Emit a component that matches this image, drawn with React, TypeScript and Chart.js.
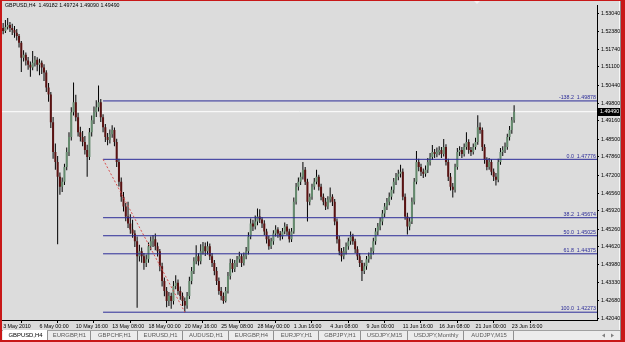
import React, { useEffect, useRef } from 'react';
import Chart from 'chart.js/auto';

const symbol = 'GBPUSD,H4';

const timeLabels = ['3 May 2010', '6 May 00:00', '10 May 16:00', '13 May 08:00', '18 May 00:00', '20 May 16:00', '25 May 08:00', '28 May 00:00', '1 Jun 16:00', '4 Jun 08:00', '9 Jun 00:00', '11 Jun 16:00', '16 Jun 08:00', '21 Jun 00:00', '23 Jun 16:00'];
const timeLabelBars = [0, 16, 32, 48, 64, 80, 96, 112, 128, 144, 160, 176, 192, 208, 224];

const priceTicks = [1.5304, 1.5238, 1.5174, 1.511, 1.5044, 1.498, 1.4916, 1.485, 1.4786, 1.472, 1.4656, 1.4592, 1.4526, 1.4462, 1.4398, 1.4333, 1.4268, 1.4204];

const opens = [
  1.5250, 1.5240, 1.5254, 1.5261, 1.5250, 1.5243, 1.5233, 1.5222, 1.5197, 1.5143,
  1.5154, 1.5133, 1.5118, 1.5108, 1.5125, 1.5136, 1.5118, 1.5125, 1.5108, 1.5090,
  1.5036, 1.5011, 1.4911, 1.4804, 1.4768, 1.4715, 1.4679, 1.4697, 1.4750, 1.4804,
  1.4858, 1.4947, 1.4983, 1.4929, 1.4875, 1.4858, 1.4840, 1.4811, 1.4786, 1.4875,
  1.4918, 1.4947, 1.4965, 1.4983, 1.4929, 1.4893, 1.4858, 1.4847, 1.4868, 1.4883,
  1.4840, 1.4768, 1.4697, 1.4643, 1.4608, 1.4572, 1.4547, 1.4525, 1.4511, 1.4483,
  1.4429, 1.4447, 1.4429, 1.4404, 1.4418, 1.4465, 1.4483, 1.4490, 1.4465, 1.4447,
  1.4393, 1.4340, 1.4304, 1.4268, 1.4286, 1.4268, 1.4322, 1.4333, 1.4304, 1.4286,
  1.4268, 1.4251, 1.4286, 1.4340, 1.4376, 1.4411, 1.4429, 1.4411, 1.4447, 1.4465,
  1.4447, 1.4465, 1.4429, 1.4404, 1.4376, 1.4340, 1.4304, 1.4286, 1.4268, 1.4304,
  1.4358, 1.4404, 1.4383, 1.4404, 1.4418, 1.4429, 1.4404, 1.4429, 1.4447, 1.4500,
  1.4547, 1.4536, 1.4554, 1.4572, 1.4561, 1.4547, 1.4518, 1.4490, 1.4465, 1.4483,
  1.4511, 1.4525, 1.4511, 1.4500, 1.4518, 1.4536, 1.4518, 1.4490, 1.4518, 1.4625,
  1.4679, 1.4697, 1.4715, 1.4740, 1.4697, 1.4625, 1.4643, 1.4679, 1.4697, 1.4715,
  1.4679, 1.4643, 1.4625, 1.4608, 1.4633, 1.4643, 1.4625, 1.4554, 1.4490, 1.4447,
  1.4429, 1.4447, 1.4465, 1.4483, 1.4500, 1.4483, 1.4454, 1.4429, 1.4404, 1.4376,
  1.4393, 1.4418, 1.4429, 1.4447, 1.4483, 1.4518, 1.4536, 1.4554, 1.4583, 1.4608,
  1.4625, 1.4643, 1.4668, 1.4697, 1.4715, 1.4726, 1.4733, 1.4643, 1.4572, 1.4536,
  1.4554, 1.4625, 1.4697, 1.4768, 1.4750, 1.4733, 1.4726, 1.4740, 1.4768, 1.4786,
  1.4804, 1.4797, 1.4804, 1.4811, 1.4797, 1.4822, 1.4768, 1.4715, 1.4679, 1.4668,
  1.4750, 1.4804, 1.4811, 1.4797, 1.4822, 1.4840, 1.4811, 1.4804, 1.4822, 1.4840,
  1.4893, 1.4883, 1.4822, 1.4775, 1.4750, 1.4768, 1.4733, 1.4715, 1.4704, 1.4768,
  1.4804, 1.4811, 1.4822, 1.4858, 1.4883, 1.49182,
];

const highs = [
  1.5268, 1.5279, 1.5286, 1.5272, 1.5266, 1.5258, 1.5247, 1.5229, 1.5204, 1.5170,
  1.5162, 1.5146, 1.5130, 1.5168, 1.5150, 1.5145, 1.5140, 1.5133, 1.5120, 1.5098,
  1.5052, 1.5020, 1.4930, 1.4835, 1.4790, 1.4730, 1.4712, 1.4762, 1.4820, 1.4875,
  1.4965, 1.5054, 1.5010, 1.4945, 1.4895, 1.4880, 1.4862, 1.4830, 1.4890, 1.4935,
  1.4968, 1.4990, 1.5043, 1.4995, 1.4940, 1.4905, 1.4872, 1.4885, 1.4900, 1.4892,
  1.4852, 1.4780, 1.4712, 1.4660, 1.4620, 1.4625, 1.4580, 1.4560, 1.4522, 1.4500,
  1.4470, 1.4460, 1.4440, 1.4435, 1.4478, 1.4500, 1.4505, 1.4511, 1.4478, 1.4455,
  1.4405, 1.4352, 1.4318, 1.4300, 1.4297, 1.4340, 1.4360, 1.4345, 1.4320, 1.4298,
  1.4280, 1.4300, 1.4355, 1.4390, 1.4425, 1.4468, 1.4440, 1.4472, 1.4480, 1.4478,
  1.4482, 1.4475, 1.4440, 1.4415, 1.4390, 1.4352, 1.4318, 1.4298, 1.4318, 1.4372,
  1.4420, 1.4418, 1.4415, 1.4430, 1.4445, 1.4438, 1.4442, 1.4462, 1.4515, 1.4565,
  1.4560, 1.4575, 1.4601, 1.4598, 1.4570, 1.4558, 1.4528, 1.4502, 1.4495, 1.4522,
  1.4540, 1.4533, 1.4520, 1.4530, 1.4550, 1.4545, 1.4528, 1.4530, 1.4640, 1.4692,
  1.4712, 1.4730, 1.4768, 1.4750, 1.4708, 1.4655, 1.4690, 1.4710, 1.4740, 1.4722,
  1.4690, 1.4655, 1.4638, 1.4645, 1.4676, 1.4652, 1.4635, 1.4565, 1.4502, 1.4458,
  1.4462, 1.4478, 1.4495, 1.4518, 1.4510, 1.4492, 1.4465, 1.4440, 1.4415, 1.4405,
  1.4430, 1.4442, 1.4460, 1.4495, 1.4530, 1.4548, 1.4568, 1.4595, 1.4620, 1.4638,
  1.4658, 1.4680, 1.4710, 1.4728, 1.4740, 1.4758, 1.4745, 1.4655, 1.4585, 1.4568,
  1.4640, 1.4710, 1.4808, 1.4780, 1.4762, 1.4745, 1.4755, 1.4782, 1.4800, 1.4829,
  1.4815, 1.4820, 1.4825, 1.4822, 1.4851, 1.4832, 1.4780, 1.4728, 1.4692, 1.4762,
  1.4818, 1.4825, 1.4822, 1.4835, 1.4875, 1.4850, 1.4822, 1.4835, 1.4855, 1.4936,
  1.4910, 1.4892, 1.4832, 1.4785, 1.4782, 1.4778, 1.4745, 1.4728, 1.4780, 1.4818,
  1.4825, 1.4838, 1.4870, 1.4898, 1.4930, 1.49724,
];

const lows = [
  1.5228, 1.5232, 1.5245, 1.5236, 1.5225, 1.5215, 1.5205, 1.5180, 1.5092, 1.5130,
  1.5115, 1.5100, 1.5075, 1.5098, 1.5112, 1.5095, 1.5080, 1.5085, 1.5060, 1.5020,
  1.4985, 1.4890, 1.4780, 1.4740, 1.4472, 1.4650, 1.4660, 1.4685, 1.4738, 1.4790,
  1.4845, 1.4935, 1.4915, 1.4860, 1.4842, 1.4825, 1.4795, 1.4715, 1.4775, 1.4860,
  1.4905, 1.4930, 1.4950, 1.4912, 1.4875, 1.4840, 1.4828, 1.4835, 1.4855, 1.4825,
  1.4750, 1.4680, 1.4625, 1.4590, 1.4555, 1.4530, 1.4510, 1.4495, 1.4462, 1.4243,
  1.4410, 1.4405, 1.4380, 1.4390, 1.4405, 1.4450, 1.4462, 1.4450, 1.4428, 1.4375,
  1.4320, 1.4285, 1.4245, 1.4250, 1.4240, 1.4255, 1.4310, 1.4290, 1.4272, 1.4250,
  1.4227, 1.4240, 1.4275, 1.4328, 1.4365, 1.4400, 1.4395, 1.4400, 1.4435, 1.4430,
  1.4435, 1.4415, 1.4390, 1.4360, 1.4325, 1.4290, 1.4270, 1.4258, 1.4262, 1.4295,
  1.4345, 1.4370, 1.4372, 1.4390, 1.4405, 1.4390, 1.4395, 1.4418, 1.4435, 1.4490,
  1.4520, 1.4525, 1.4540, 1.4548, 1.4530, 1.4505, 1.4475, 1.4452, 1.4455, 1.4470,
  1.4500, 1.4495, 1.4485, 1.4490, 1.4508, 1.4505, 1.4478, 1.4480, 1.4510, 1.4615,
  1.4665, 1.4685, 1.4705, 1.4685, 1.4554, 1.4612, 1.4632, 1.4668, 1.4688, 1.4665,
  1.4630, 1.4612, 1.4595, 1.4598, 1.4622, 1.4610, 1.4540, 1.4475, 1.4432, 1.4410,
  1.4418, 1.4435, 1.4452, 1.4470, 1.4470, 1.4440, 1.4415, 1.4390, 1.4340, 1.4365,
  1.4380, 1.4405, 1.4418, 1.4435, 1.4470, 1.4505, 1.4522, 1.4540, 1.4570, 1.4595,
  1.4612, 1.4632, 1.4655, 1.4685, 1.4702, 1.4712, 1.4630, 1.4560, 1.4507, 1.4522,
  1.4545, 1.4615, 1.4688, 1.4735, 1.4718, 1.4710, 1.4715, 1.4728, 1.4755, 1.4775,
  1.4782, 1.4785, 1.4792, 1.4782, 1.4788, 1.4755, 1.4700, 1.4665, 1.4640, 1.4658,
  1.4740, 1.4790, 1.4782, 1.4788, 1.4812, 1.4798, 1.4790, 1.4795, 1.4812, 1.4830,
  1.4870, 1.4808, 1.4762, 1.4738, 1.4740, 1.4720, 1.4700, 1.4683, 1.4695, 1.4758,
  1.4790, 1.4800, 1.4812, 1.4845, 1.4870, 1.49090,
];

const closes = [
  1.5240, 1.5254, 1.5261, 1.5250, 1.5243, 1.5233, 1.5222, 1.5197, 1.5143, 1.5154,
  1.5133, 1.5118, 1.5108, 1.5125, 1.5136, 1.5118, 1.5125, 1.5108, 1.5090, 1.5036,
  1.5011, 1.4911, 1.4804, 1.4768, 1.4715, 1.4679, 1.4697, 1.4750, 1.4804, 1.4858,
  1.4947, 1.4983, 1.4929, 1.4875, 1.4858, 1.4840, 1.4811, 1.4786, 1.4875, 1.4918,
  1.4947, 1.4965, 1.4983, 1.4929, 1.4893, 1.4858, 1.4847, 1.4868, 1.4883, 1.4840,
  1.4768, 1.4697, 1.4643, 1.4608, 1.4572, 1.4547, 1.4525, 1.4511, 1.4483, 1.4429,
  1.4447, 1.4429, 1.4404, 1.4418, 1.4465, 1.4483, 1.4490, 1.4465, 1.4447, 1.4393,
  1.4340, 1.4304, 1.4268, 1.4286, 1.4268, 1.4322, 1.4333, 1.4304, 1.4286, 1.4268,
  1.4251, 1.4286, 1.4340, 1.4376, 1.4411, 1.4429, 1.4411, 1.4447, 1.4465, 1.4447,
  1.4465, 1.4429, 1.4404, 1.4376, 1.4340, 1.4304, 1.4286, 1.4268, 1.4304, 1.4358,
  1.4404, 1.4383, 1.4404, 1.4418, 1.4429, 1.4404, 1.4429, 1.4447, 1.4500, 1.4547,
  1.4536, 1.4554, 1.4572, 1.4561, 1.4547, 1.4518, 1.4490, 1.4465, 1.4483, 1.4511,
  1.4525, 1.4511, 1.4500, 1.4518, 1.4536, 1.4518, 1.4490, 1.4518, 1.4625, 1.4679,
  1.4697, 1.4715, 1.4740, 1.4697, 1.4625, 1.4643, 1.4679, 1.4697, 1.4715, 1.4679,
  1.4643, 1.4625, 1.4608, 1.4633, 1.4643, 1.4625, 1.4554, 1.4490, 1.4447, 1.4429,
  1.4447, 1.4465, 1.4483, 1.4500, 1.4483, 1.4454, 1.4429, 1.4404, 1.4376, 1.4393,
  1.4418, 1.4429, 1.4447, 1.4483, 1.4518, 1.4536, 1.4554, 1.4583, 1.4608, 1.4625,
  1.4643, 1.4668, 1.4697, 1.4715, 1.4726, 1.4733, 1.4643, 1.4572, 1.4536, 1.4554,
  1.4625, 1.4697, 1.4768, 1.4750, 1.4733, 1.4726, 1.4740, 1.4768, 1.4786, 1.4804,
  1.4797, 1.4804, 1.4811, 1.4797, 1.4822, 1.4768, 1.4715, 1.4679, 1.4668, 1.4750,
  1.4804, 1.4811, 1.4797, 1.4822, 1.4840, 1.4811, 1.4804, 1.4822, 1.4840, 1.4893,
  1.4883, 1.4822, 1.4775, 1.4750, 1.4768, 1.4733, 1.4715, 1.4704, 1.4768, 1.4804,
  1.4811, 1.4822, 1.4858, 1.4883, 1.4918, 1.49490,
];

const fibLevels = ['-138.2', '0.0', '38.2', '50.0', '61.8', '100.0'];
const fibPrices = [1.49878, 1.47776, 1.45674, 1.45025, 1.44375, 1.42273];
const fibStartBar = 44;
const fibEndBar = 80;

const tabNames = ['GBPUSD,H4', 'EURGBP,H1', 'GBPCHF,H1', 'EURUSD,H1', 'AUDUSD,H1', 'EURGBP,H4', 'EURJPY,H1', 'GBPJPY,H1', 'USDJPY,M15', 'USDJPY,Monthly', 'AUDJPY,M15'];

// layout (not data)
const W = 625;
const H = 342;
const X_MAX = 261.5;
const FONT = "'Liberation Sans', Arial, sans-serif";
const TAB_EDGES = [2, 47, 90, 137, 182, 228, 273, 318, 360, 407, 463, 513];
const BULL = '#648a6d';
const BEAR = '#5a1212';
const FIB_COLOR = '#2c2c98';

const framePlugin = {
  id: 'mtFrame',
  beforeDraw(chart: any) {
    const ctx = chart.ctx;
    ctx.save();
    ctx.fillStyle = '#c81818';
    ctx.fillRect(0, 0, W, H);
    ctx.fillStyle = '#dcdcdc';
    ctx.fillRect(2, 1, 618, 329);
    ctx.fillStyle = '#f6f6f6';
    ctx.fillRect(619, 1, 1, 329);
    ctx.fillStyle = '#8c8c8c';
    ctx.fillRect(620, 1, 1, 339);
    // tab bar
    ctx.fillStyle = '#ececec';
    ctx.fillRect(2, 330, 618, 10);
    ctx.fillStyle = '#a0a0a0';
    ctx.fillRect(2, 330, 618, 1);
    // active tab
    ctx.fillStyle = '#ffffff';
    ctx.fillRect(3, 330, TAB_EDGES[1] - 3, 10);
    ctx.fillStyle = '#909090';
    for (let k = 1; k < TAB_EDGES.length; k++) {
      ctx.fillRect(TAB_EDGES[k], 331, 1, 9);
    }
    ctx.restore();
  },
  afterDraw(chart: any) {
    const ctx = chart.ctx;
    const area = chart.chartArea;
    const yScale = chart.scales.y;
    const last = closes.length - 1;
    ctx.save();
    // header
    ctx.font = `5.3px ${FONT}`;
    ctx.fillStyle = '#000';
    ctx.textBaseline = 'middle';
    ctx.textAlign = 'left';
    ctx.fillText(`${symbol}  ${opens[last].toFixed(5)} ${highs[last].toFixed(5)} ${lows[last].toFixed(5)} ${closes[last].toFixed(5)}`, 5, 6);
    // fib labels
    ctx.fillStyle = FIB_COLOR;
    ctx.textAlign = 'right';
    fibLevels.forEach((lv, k) => {
      const y = yScale.getPixelForValue(fibPrices[k]);
      ctx.fillText(`${lv}  ${fibPrices[k].toFixed(5)}`, area.right - 1, y - 3.2);
    });
    // bid price box
    const by = yScale.getPixelForValue(closes[last]);
    ctx.fillStyle = '#000';
    ctx.fillRect(area.right + 1, Math.round(by) - 4, 22, 8);
    ctx.fillStyle = '#fff';
    ctx.textAlign = 'left';
    ctx.fillText(closes[last].toFixed(5), area.right + 3, by + 0.3);
    // chart shift marker
    ctx.fillStyle = '#f2f2f2';
    ctx.beginPath();
    ctx.moveTo(474, 1);
    ctx.lineTo(480, 1);
    ctx.lineTo(477, 4);
    ctx.closePath();
    ctx.fill();
    // tabs
    ctx.font = `5.9px ${FONT}`;
    ctx.textAlign = 'center';
    tabNames.forEach((t, k) => {
      ctx.fillStyle = k === 0 ? '#000' : '#5a5a5a';
      ctx.fillText(t, (TAB_EDGES[k] + TAB_EDGES[k + 1]) / 2 + 1, 335.8);
    });
    // scroll arrows
    ctx.fillStyle = '#808080';
    ctx.beginPath();
    ctx.moveTo(602, 335.5); ctx.lineTo(605, 333.5); ctx.lineTo(605, 337.5); ctx.closePath(); ctx.fill();
    ctx.beginPath();
    ctx.moveTo(614, 335.5); ctx.lineTo(611, 333.5); ctx.lineTo(611, 337.5); ctx.closePath(); ctx.fill();
    ctx.restore();
  },
};

export default function App() {
  const ref = useRef<HTMLCanvasElement | null>(null);

  useEffect(() => {
    if (!ref.current) return;
    const last = closes.length - 1;
    const bodyColors = closes.map((c, i) => (c >= opens[i] ? BULL : BEAR));
    const fibDatasets = fibPrices.map((p, k) => ({
      type: 'line' as const,
      label: `Fibo ${fibLevels[k]}`,
      data: [{ x: fibStartBar, y: p }, { x: X_MAX, y: p }],
      borderColor: FIB_COLOR,
      borderWidth: 1,
      pointRadius: 0,
      order: 1,
    }));
    const chart = new Chart(ref.current, {
      type: 'bar',
      data: {
        datasets: [
          {
            type: 'line',
            label: 'Fibo trend',
            data: [
              { x: fibStartBar, y: fibPrices[fibLevels.indexOf('0.0')] },
              { x: fibEndBar, y: fibPrices[fibLevels.indexOf('100.0')] },
            ],
            borderColor: '#d85050',
            borderWidth: 1,
            borderDash: [2, 2],
            pointRadius: 0,
            order: 0,
          },
          ...fibDatasets,
          {
            type: 'bar',
            label: 'body',
            data: opens.map((o, i) => ({ x: i, y: [o, closes[i]] })),
            backgroundColor: bodyColors,
            borderColor: '#1a1a1a',
            borderWidth: 0,
            barThickness: 2,
            grouped: false,
            minBarLength: 1,
            inflateAmount: 0,
            order: 5,
          },
          {
            type: 'bar',
            label: 'wick',
            data: lows.map((l, i) => ({ x: i, y: [l, highs[i]] })),
            backgroundColor: '#000000',
            barThickness: 1,
            grouped: false,
            inflateAmount: 0,
            order: 6,
          },
          {
            type: 'line',
            label: 'bid',
            data: [{ x: -0.5, y: closes[last] }, { x: X_MAX, y: closes[last] }],
            borderColor: '#ffffff',
            borderWidth: 1,
            pointRadius: 0,
            order: 10,
          },
        ] as any,
      },
      options: {
        animation: false,
        responsive: false,
        events: [],
        layout: { padding: { left: 2, top: 2, right: 5, bottom: 12 }, autoPadding: false } as any,
        plugins: { legend: { display: false }, tooltip: { enabled: false } },
        scales: {
          x: {
            type: 'linear',
            min: -0.5,
            max: X_MAX,
            offset: false,
            afterBuildTicks: (s: any) => {
              s.ticks = timeLabelBars.map((v) => ({ value: v }));
            },
            afterFit: (s: any) => {
              s.height = 10;
            },
            ticks: {
              autoSkip: false,
              maxRotation: 0,
              minRotation: 0,
              align: 'start',
              padding: 0,
              color: '#000',
              font: { family: FONT, size: 5.3 },
              callback: (_v: any, i: number) => timeLabels[i] ?? '',
            },
            grid: { drawOnChartArea: false, drawTicks: true, tickLength: 3, color: '#000' },
            border: { display: true, color: '#000' },
          },
          y: {
            type: 'linear',
            position: 'right',
            min: 1.41992,
            max: 1.53325,
            afterBuildTicks: (s: any) => {
              s.ticks = priceTicks.map((v) => ({ value: v }));
            },
            afterFit: (s: any) => {
              s.width = 23;
            },
            ticks: {
              autoSkip: false,
              padding: 2,
              color: '#000',
              font: { family: FONT, size: 5.3 },
              callback: (v: any) => Number(v).toFixed(5),
            },
            grid: { drawOnChartArea: false, drawTicks: true, tickLength: 2, color: '#000' },
            border: { display: true, color: '#000' },
          },
        },
      } as any,
      plugins: [framePlugin],
    });
    return () => chart.destroy();
  }, []);

  return (
    <div style={{ position: 'fixed', left: 0, top: 0, width: W, height: H }}>
      <canvas ref={ref} width={W} height={H} style={{ display: 'block', width: W, height: H }} />
    </div>
  );
}
